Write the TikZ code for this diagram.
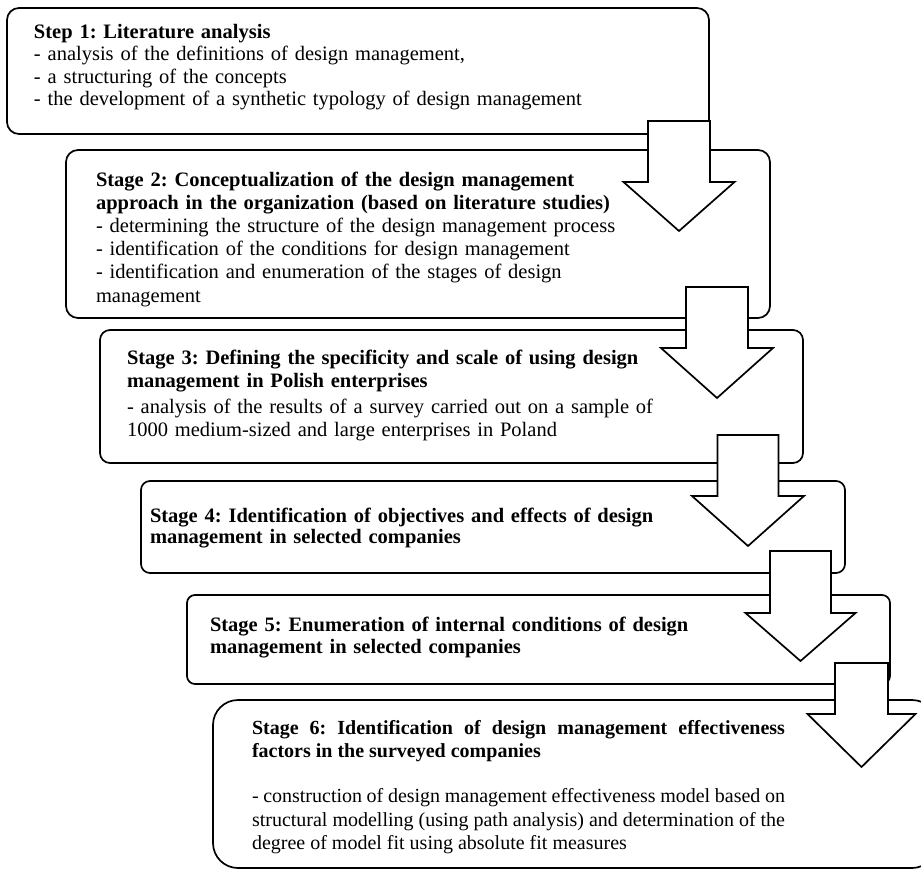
\documentclass[tikz,border=0pt]{standalone}
\usepackage{fontspec}
\setmainfont{Liberation Serif}
\frenchspacing

% down-pointing block arrow: centre x, shaft top, head base, tip, half shaft width, half head width
\newcommand{\stagearrow}[6]{%
  \draw[blockarrow] (#1-#5,#2) -- (#1+#5,#2) -- (#1+#5,#3) -- (#1+#6,#3)
    -- (#1,#4) -- (#1-#6,#3) -- (#1-#5,#3) -- cycle;}

\begin{document}
\begin{tikzpicture}[x=1pt,y=-1pt,
  stagebox/.style={draw=black, line width=1.7pt, rectangle, inner sep=0pt, outer sep=0pt},
  stagetext/.style={anchor=base west, inner sep=0pt, outer sep=0pt, text width=640pt, align=left},
  blockarrow/.style={draw=black, fill=white, line width=1.7pt, line join=miter},
]
\useasboundingbox (0,0) rectangle (921,870);
\fill[white] (0,0) rectangle (921,870);

% stage frames
\node[stagebox, rounded corners=12pt, minimum width=702pt, minimum height=126pt] (box1) at (358,71) {};
\node[stagebox, rounded corners=12pt, minimum width=704pt, minimum height=168pt] (box2) at (418,234) {};
\node[stagebox, rounded corners=10pt, minimum width=703pt, minimum height=133pt] (box3) at (451.5,396.5) {};
\node[stagebox, rounded corners=9pt, minimum width=704pt, minimum height=92pt] (box4) at (493,527) {};
\node[stagebox, rounded corners=8pt, minimum width=703pt, minimum height=89pt] (box5) at (538.5,639.5) {};
\node[stagebox, rounded corners=25pt, minimum width=724pt, minimum height=168pt] (box6) at (575,784) {};

% stage descriptions
\node[stagetext, font=\fontsize{20.5}{22.5}\selectfont] (txt1) at (34,38)
  {{\bfseries Step 1: Literature analysis}\\
   - analysis of the definitions of design management,\\
   - a structuring of the concepts\\
   - the development of a synthetic typology of design management};

\node[stagetext, font=\fontsize{20.5}{23.2}\selectfont] (txt2) at (96,186)
  {{\bfseries Stage 2: Conceptualization of the design management\\
   approach in the organization (based on literature studies)}\\
   - determining the structure of the design management process\\
   - identification of the conditions for design management\\
   - identification and enumeration of the stages of design\\
   management};

\node[stagetext, font=\fontsize{20.5}{23.3}\selectfont] (txt3) at (127,364)
  {{\bfseries Stage 3: Defining the specificity and scale of using design\\
   management in Polish enterprises}\\[3pt]
   - analysis of the results of a survey carried out on a sample of\\
   1000 medium-sized and large enterprises in Poland};

\node[stagetext, font=\fontsize{20.5}{21}\selectfont] (txt4) at (150,522)
  {{\bfseries Stage 4: Identification of objectives and effects of design\\
   management in selected companies}};

\node[stagetext, font=\fontsize{20.5}{22}\selectfont] (txt5) at (210,631)
  {{\bfseries Stage 5: Enumeration of internal conditions of design\\
   management in selected companies}};

\node[anchor=base west, inner sep=0pt, outer sep=0pt, text width=533pt, align=justify,
      font=\fontsize{20}{23.2}\selectfont] (txt6) at (252,734)
  {{\bfseries Stage 6: Identification of design management effectiveness\linebreak
   factors in the surveyed companies}\\[22.5pt]
   - construction of design management effectiveness model based on\linebreak
   structural modelling (using path analysis) and determination of the\linebreak
   degree of model fit using absolute fit measures};

% block arrows between consecutive stages
\stagearrow{679}{121}{182}{231}{31}{55.5}
\stagearrow{717}{287}{348}{398}{31}{56}
\stagearrow{748}{435}{496}{546}{30.5}{56}
\stagearrow{800.5}{551}{613}{661}{30.5}{55}
\stagearrow{861.5}{663}{714}{767}{26.5}{54}
\end{tikzpicture}
\end{document}
